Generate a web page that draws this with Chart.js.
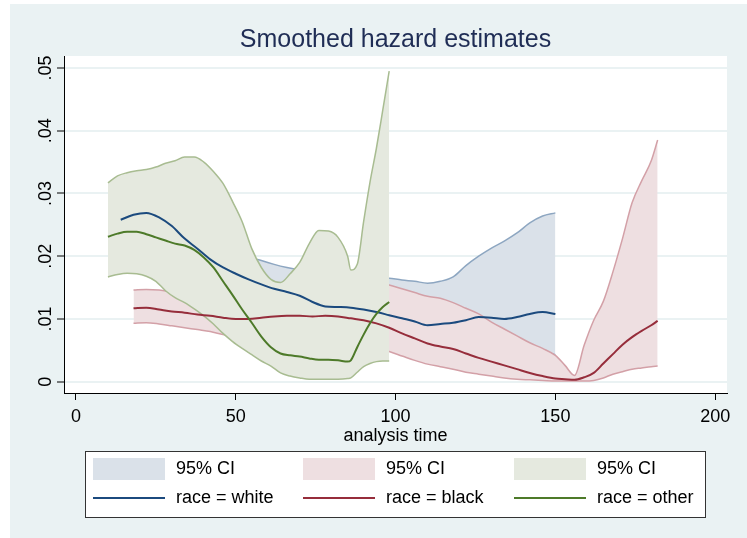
<!DOCTYPE html>
<html>
<head>
<meta charset="utf-8">
<script src="https://cdn.jsdelivr.net/npm/chart.js@4/dist/chart.umd.min.js"></script>
<style>
  body { margin: 0; background: #fff; }
  canvas { display: block; }
</style>
</head>
<body>
<canvas id="Chart" width="747" height="538"></canvas>
<script>
// --- data ---
const titleText = 'Smoothed hazard estimates';
const xTitle = 'analysis time';
const xTicks = [0, 50, 100, 150, 200];
const yTicks = [0, 0.01, 0.02, 0.03, 0.04, 0.05];
const yTickLabels = ['0', '.01', '.02', '.03', '.04', '.05'];

// race = white
const whiteX = [14, 18, 22, 26, 30, 34, 38, 42, 46, 50, 54, 58, 62, 66, 70, 74, 78, 82, 86, 90, 94, 98,
  102, 106, 110, 114, 118, 122, 126, 130, 134, 138, 142, 146, 150];
const whiteHaz = [.0258, .0266, .0269, .0262, .0248, .0228, .0212, .0195, .0182, .0172, .0163, .0155, .0148,
  .0143, .0137, .0127, .0120, .0119, .0118, .0115, .0111, .0106, .0101, .0096, .0090, .0092, .0094, .0098,
  .0103, .0102, .0100, .0103, .0108, .0111, .0108];
const whiteUpper = [.031, .031, .031, .030, .029, .028, .026, .025, .024, .022, .0200, .0193, .0187, .0182,
  .0178, .0175, .0172, .0170, .0168, .0168, .0167, .0165, .0162, .0160, .0157, .0160, .0167, .0185, .0200,
  .0213, .0224, .0237, .0253, .0264, .0269];
const whiteLower = [.0200, .0205, .0207, .0203, .0193, .0180, .0165, .0150, .0140, .0130, .0122, .0115, .0110,
  .0105, .0098, .0090, .0085, .0083, .0082, .0079, .0075, .0072, .0066, .0060, .0053, .0052, .0052, .0053,
  .0054, .0052, .0049, .0048, .0048, .0047, .0043];

// race = black
const blackX = [18, 22, 26, 30, 34, 38, 42, 46, 50, 54, 58, 62, 66, 70, 74, 78, 82, 86, 90, 94, 98, 102, 106,
  110, 114, 118, 122, 126, 130, 134, 138, 142, 146, 150, 153, 156, 159, 162, 165, 168, 171, 174, 177, 180, 182];
const blackHaz = [.0117, .0118, .0115, .0112, .0110, .0107, .0105, .0102, .0100, .0100, .0102, .0104, .0105,
  .0105, .0104, .0105, .0104, .0101, .0098, .0093, .0086, .0077, .0069, .0061, .0056, .0052, .0045, .0038,
  .0032, .0026, .0020, .0014, .0009, .0005, .0004, .0003, .0007, .0014, .0029, .0044, .0059, .0071, .0081,
  .0090, .0097];
const blackUpper = [.0146, .0147, .0146, .0143, .0140, .0140, .0140, .0141, .0142, .0143, .0145, .0148, .0150,
  .0152, .0154, .0156, .0157, .0158, .0158, .0157, .0154, .0148, .0142, .0136, .0133, .0126, .0117, .0108,
  .0095, .0084, .0073, .0062, .0053, .0042, .0026, .0010, .0058, .0098, .0128, .0175, .0228, .0285, .0320,
  .0352, .0385];
const blackLower = [.0093, .0094, .0092, .0089, .0086, .0083, .0080, .0075, .0071, .0068, .0067, .0066, .0066,
  .0065, .0064, .0064, .0062, .0060, .0057, .0053, .0048, .0041, .0034, .0028, .0024, .0020, .0015, .0012,
  .0009, .0006, .0004, .0003, .0002, .0001, .0001, .0001, .0001, .0002, .0006, .0012, .0016, .0020, .0022,
  .0024, .0025];

// race = other
const otherX = [10, 13, 16, 19, 22, 25, 28, 31, 34, 37, 40, 43, 46, 49, 52, 55, 58, 61, 64, 67, 70, 73, 76, 79,
  82, 85, 86, 88, 90, 92, 94, 96, 98];
const otherHaz = [.0231, .0236, .0239, .0239, .0235, .0230, .0225, .0220, .0217, .0210, .0198, .0182, .0160,
  .0138, .0115, .0094, .0072, .0055, .0045, .0042, .0040, .0037, .0035, .0035, .0034, .0032, .0034, .0055,
  .0075, .0093, .0108, .0119, .0127];
const otherUpper = [.0317, .0328, .0333, .0336, .0338, .0342, .0348, .0352, .0358, .0358, .0350, .0335, .0316,
  .0287, .0255, .0212, .0182, .0163, .0158, .0172, .0190, .0220, .0241, .0240, .0230, .0200, .0178, .0187,
  .0255, .0318, .0372, .0433, .0495];
const otherLower = [.0167, .0171, .0173, .0172, .0168, .0160, .0145, .0134, .0126, .0116, .0105, .0092, .0077,
  .0064, .0053, .0043, .0033, .0025, .0014, .0009, .0006, .0004, .0004, .0004, .0004, .0005, .0006, .0015,
  .0024, .0029, .0032, .0033, .0033];

// --- styles ---
const bg = '#EAF2F3';
const cols = {
  white: { line: '#1B4A7E', edge: '#8DA6C1', fill: '#DAE1E9' },
  black: { line: '#962D3B', edge: '#D3A0A7', fill: '#EEDFE1' },
  other: { line: '#4D7A29', edge: '#A8BC91', fill: '#E5E9DF' }
};
const font = '"Liberation Sans", Arial, sans-serif';

function pts(xs, ys) {
  return xs.map((x, i) => ({ x: x, y: ys[i] }));
}

function band(xs, up, lo, c, ord) {
  return [
    { label: '95% CI', data: pts(xs, up), borderColor: c.edge, backgroundColor: c.fill,
      borderWidth: 1.5, fill: '+1', order: ord + 0.5 },
    { label: '95% CI lower', data: pts(xs, lo), borderColor: c.edge, borderWidth: 1.5,
      fill: false, order: ord }
  ];
}

function hazLine(label, xs, ys, c, ord) {
  return { label: label, data: pts(xs, ys), borderColor: c.line, borderWidth: 2, fill: false, order: ord };
}

const datasets = [].concat(
  band(whiteX, whiteUpper, whiteLower, cols.white, 9),
  band(blackX, blackUpper, blackLower, cols.black, 7),
  band(otherX, otherUpper, otherLower, cols.other, 5),
  [hazLine('race = white', whiteX, whiteHaz, cols.white, 3),
   hazLine('race = black', blackX, blackHaz, cols.black, 2),
   hazLine('race = other', otherX, otherHaz, cols.other, 1)]
);

// backgrounds, title, y labels, legend
const stataLook = {
  id: 'stataLook',
  beforeDraw(chart) {
    const ctx = chart.ctx, a = chart.chartArea;
    ctx.save();
    ctx.fillStyle = '#fff';
    ctx.fillRect(0, 0, chart.width, chart.height);
    ctx.fillStyle = bg;
    ctx.fillRect(10, 4, chart.width - 10, chart.height - 4);
    ctx.fillStyle = '#fff';
    ctx.fillRect(a.left, a.top, a.right - a.left, a.bottom - a.top);
    ctx.restore();
  },
  afterDraw(chart) {
    const ctx = chart.ctx, a = chart.chartArea;
    const ys = chart.scales.y;
    const mid = (a.left + a.right) / 2;
    ctx.save();
    // title
    ctx.fillStyle = '#1F2D55';
    ctx.font = '25px ' + font;
    ctx.textAlign = 'center';
    ctx.textBaseline = 'alphabetic';
    ctx.fillText(titleText, mid, 47);
    // x axis title
    ctx.fillStyle = '#000';
    ctx.font = '18px ' + font;
    ctx.fillText(xTitle, mid, 441);
    // y tick labels, rotated
    yTicks.forEach((v, i) => {
      const py = ys.getPixelForValue(v);
      ctx.save();
      ctx.translate(51, py);
      ctx.rotate(-Math.PI / 2);
      ctx.textAlign = 'center';
      ctx.textBaseline = 'alphabetic';
      ctx.fillText(yTickLabels[i], 0, 0);
      ctx.restore();
    });
    // legend
    const bx = 85, by = 451, bw = 620, bh = 66;
    ctx.fillStyle = '#fff';
    ctx.fillRect(bx, by, bw, bh);
    ctx.strokeStyle = '#333';
    ctx.lineWidth = 1;
    ctx.strokeRect(bx + 0.5, by + 0.5, bw, bh);
    const colX = [93, 303, 514];
    const keys = ['white', 'black', 'other'];
    const names = ['race = white', 'race = black', 'race = other'];
    ctx.textAlign = 'left';
    ctx.textBaseline = 'middle';
    ctx.font = '18px ' + font;
    keys.forEach((k, i) => {
      const x = colX[i];
      ctx.fillStyle = cols[k].fill;
      ctx.fillRect(x, 458, 72, 22);
      ctx.fillStyle = '#000';
      ctx.fillText('95% CI', x + 83, 469);
      ctx.strokeStyle = cols[k].line;
      ctx.lineWidth = 2;
      ctx.beginPath();
      ctx.moveTo(x, 498);
      ctx.lineTo(x + 72, 498);
      ctx.stroke();
      ctx.fillStyle = '#000';
      ctx.fillText(names[i], x + 83, 498);
    });
    ctx.restore();
  }
};

new Chart(document.getElementById('Chart').getContext('2d'), {
  type: 'line',
  data: { datasets: datasets },
  options: {
    responsive: false,
    animation: false,
    devicePixelRatio: 1,
    layout: { padding: { left: 0, top: 56, right: 20, bottom: 105 } },
    elements: {
      point: { radius: 0, hoverRadius: 0 },
      line: { cubicInterpolationMode: 'monotone' }
    },
    plugins: { legend: { display: false }, tooltip: { enabled: false }, title: { display: false } },
    scales: {
      x: {
        type: 'linear',
        min: -3.75,
        max: 203.7,
        afterBuildTicks: s => { s.ticks = xTicks.map(v => ({ value: v })); },
        afterFit: s => { s.height = 40; },
        border: { display: true, color: '#000', width: 1 },
        grid: { drawOnChartArea: false, drawTicks: true, tickLength: 7, tickColor: '#000' },
        ticks: { color: '#000', font: { family: font, size: 18 }, padding: 6, maxRotation: 0 }
      },
      y: {
        type: 'linear',
        min: -0.0018,
        max: 0.0519,
        afterBuildTicks: s => { s.ticks = yTicks.map(v => ({ value: v })); },
        afterFit: s => { s.width = 64; },
        border: { display: true, color: '#000', width: 1 },
        grid: { color: bg, lineWidth: 2, tickLength: 7, tickColor: '#000', tickWidth: 1 },
        ticks: { display: false }
      }
    }
  },
  plugins: [stataLook]
});
</script>
</body>
</html>
